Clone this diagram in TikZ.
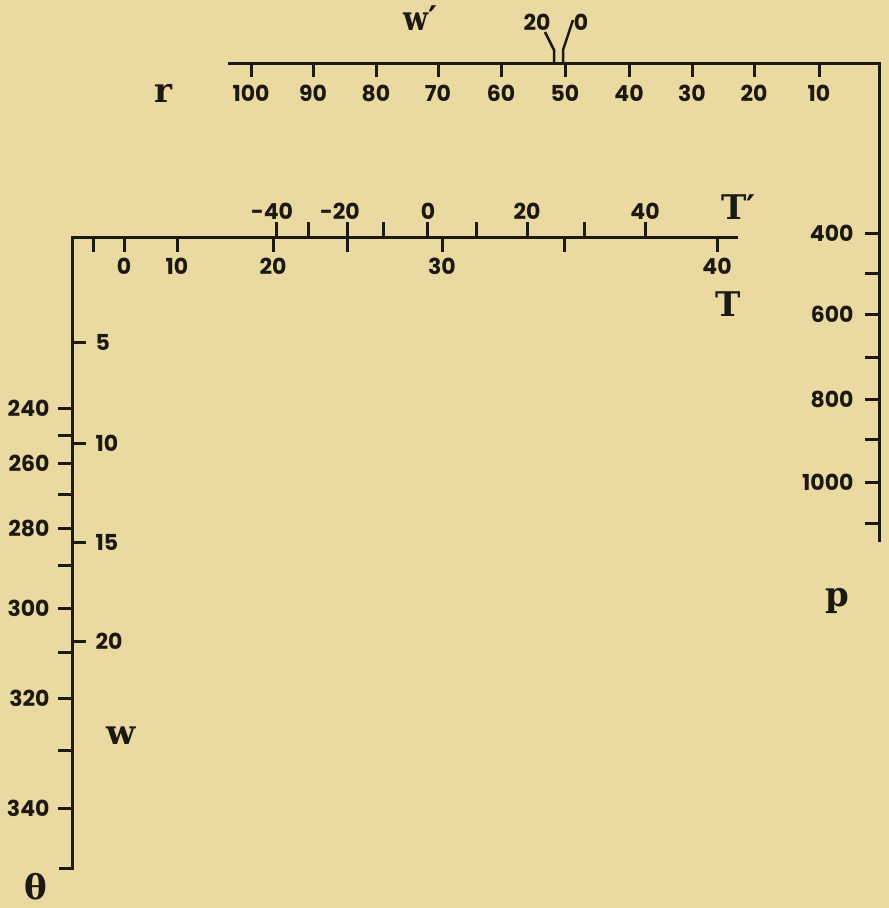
\documentclass[tikz,border=0pt]{standalone}
\usepackage{fontspec}
\newfontfamily\labfont{Poppins}
\newfontfamily\varfont{DejaVu Serif}
\definecolor{bg}{HTML}{EAD9A0}
\definecolor{ink}{HTML}{1C1812}
\newcommand{\narrow}[1]{\scalebox{0.85}[1]{#1}}
\begin{document}
\begin{tikzpicture}[x=1pt,y=-1pt,line width=3pt,draw=ink,line join=miter,
  lab/.style={font=\labfont\bfseries\fontsize{22}{22}\selectfont,text=ink,inner sep=0pt},
  var/.style={font=\varfont\bfseries\fontsize{34}{34}\selectfont,text=ink,inner sep=0pt,anchor=base west}]
\fill[bg] (0,0) rectangle (889,908);
\useasboundingbox (0,0) rectangle (889,908);
% r axis and p axis
\coordinate (rL) at (228,63);
\coordinate (rR) at (879,63);
\coordinate (pB) at (879,542);
\draw (rL) -- (rR) -- (pB);
\foreach \v/\x in {100/251,90/313,80/376,70/438,60/501,50/565,40/629,30/692,20/754,10/819}{
  \draw (\x,63) -- (\x,77);
  \node[lab] (r\v) at (\x,93) {\v};
}
% w' markers
\node[lab] (wp20) at (537,22) {20};
\node[lab] (wp0) at (581,22) {0};
\coordinate (m1) at (554,63);
\coordinate (m2) at (563,63);
\draw[line width=2.5pt] (545,32) -- (554,50) -- (m1);
\draw[line width=2.5pt] (573,20) -- (563,50) -- (m2);
\node[var] (wprime) at (402,30) {\narrow{w}′};
\node[var] (rname) at (153,102) {r};
% p ticks
\foreach \y in {233,273,314,357,399,439,482,523}{\draw (865,\y) -- (879,\y);}
\foreach \v/\y in {400/233,600/314,800/399,1000/482}{\node[lab,anchor=east] (p\v) at (855,\y) {\v};}
\node[var] (pname) at (824,606) {p};
% T axis and left axis
\coordinate (tR) at (738,237);
\coordinate (cL) at (72,237);
\coordinate (thB) at (72,868);
\draw (59,868) -- (thB) -- (cL) -- (tR);
\foreach \x in {93,124,177,273,347,442,564,717}{\draw (\x,237) -- (\x,252);}
\foreach \v/\x in {0/124,10/177,20/273,30/442,40/717}{\node[lab] (T\v) at (\x,266) {\v};}
\foreach \x in {276,308,347,383,427,476,527,584,645}{\draw (\x,222) -- (\x,237);}
\foreach \n/\v/\x in {a/-40/272,b/-20/340,c/0/428,d/20/527,e/40/645}{\node[lab] (Tp\n) at (\x,211) {\v};}
\node[var] (Tpname) at (720,219) {T′};
\node[var] (Tname) at (714,316) {T};
% w ticks
\foreach \v/\y in {5/342,10/443,15/542,20/641}{
  \draw (72,\y) -- (86,\y);
  \node[lab,anchor=west] (w\v) at (94,\y) {\v};
}
\node[var] (wname) at (105,744) {w};
% theta ticks
\foreach \y in {408,435,463,494,528,565,608,652,698,750,808}{\draw (58,\y) -- (72,\y);}
\foreach \v/\y in {240/408,260/463,280/528,300/608,320/698,340/808}{\node[lab,anchor=east] (th\v) at (51,\y) {\v};}
\node[var] (thname) at (23,899) {θ};
\end{tikzpicture}
\end{document}
